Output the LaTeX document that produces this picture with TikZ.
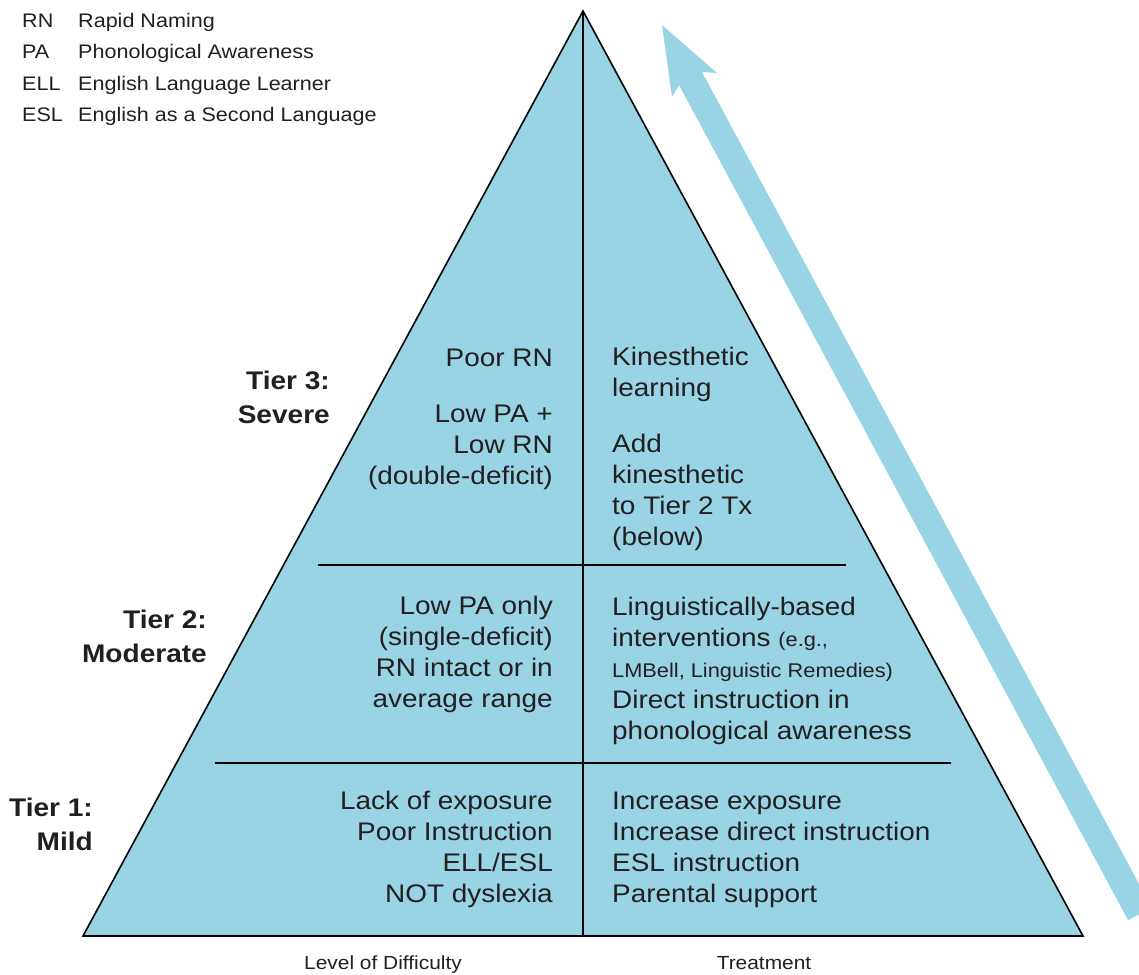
\documentclass[tikz,border=0pt]{standalone}
\usepackage{fontspec}
\setmainfont{Liberation Sans}[FakeStretch=1.1]
\definecolor{pyr}{RGB}{152,212,228}
\definecolor{txt}{RGB}{35,31,32}
\tikzset{
  body/.style={inner sep=0pt, text=txt, font=\fontsize{25.4}{31}\selectfont},
  lcol/.style={body, align=right, anchor=base east},
  rcol/.style={body, align=left, anchor=base west},
  tier/.style={inner sep=0pt, text=txt, align=right, anchor=base east, font=\fontsize{25.5}{33.5}\selectfont\bfseries},
  legend/.style={inner sep=0pt, text=txt, anchor=base west, font=\fontsize{19.6}{31}\selectfont},
  axis/.style={inner sep=0pt, text=txt, anchor=base, font=\fontsize{19}{24}\selectfont},
  edge/.style={line width=1.6pt, black, line join=miter},
  divider/.style={line width=1.3pt, black}
}
\newcommand{\smalltx}{\fontsize{19.8}{31}\selectfont}
\begin{document}
\begin{tikzpicture}[x=1pt,y=-1pt]
\useasboundingbox (0,0) rectangle (1139,974);
% arrow
\begin{scope}
\clip (0,0) rectangle (1139,974);
\fill[pyr] (662,25) -- (717,73) -- (702,72) -- (1152,908) -- (1128,920) -- (679,85) -- (672,97) -- cycle;
\end{scope}
% pyramid
\coordinate (apex) at (583,11);
\coordinate (bl) at (83,936);
\coordinate (br) at (1083,936);
\coordinate (bm) at (583,936);
\coordinate (d1l) at (318,565);
\coordinate (d1r) at (846,565);
\coordinate (d2l) at (215,763);
\coordinate (d2r) at (951,763);
\fill[pyr] (bl) -- (apex) -- (br) -- cycle;
\draw[divider] (apex) -- (bm);
\draw[divider] (d1l) -- (d1r);
\draw[divider] (d2l) -- (d2r);
\draw[edge] (bl) -- (apex) -- (br) -- cycle;
% legend
\node[legend] (lrn) at (22,28) {RN};
\node[legend] (lpa) at (22,59) {PA};
\node[legend] (lell) at (22,90) {ELL};
\node[legend] (lesl) at (22,121) {ESL};
\node[legend] (drn) at (78,28) {Rapid Naming};
\node[legend] (dpa) at (78,59) {Phonological Awareness};
\node[legend] (dell) at (78,90) {English Language Learner};
\node[legend] (desl) at (78,121) {English as a Second Language};
% tier labels (anchor = baseline of last line)
\node[tier] (t3) at (330,423) {Tier 3:\\Severe};
\node[tier] (t2) at (207,662) {Tier 2:\\Moderate};
\node[tier] (t1) at (93,850) {Tier 1:\\Mild};
% tier 3
\node[lcol] (t3a) at (553,366) {Poor RN};
\node[lcol] (t3b) at (553,484) {Low PA +\\Low RN\\(double-deficit)};
\node[rcol] (t3c) at (612,396) {Kinesthetic\\learning};
\node[rcol] (t3d) at (612,545) {Add\\kinesthetic\\to Tier 2 Tx\\(below)};
% tier 2
\node[lcol] (t2a) at (553,707) {Low PA only\\(single-deficit)\\RN intact or in\\average range};
\node[rcol] (t2b) at (612,739) {Linguistically-based\\interventions {\smalltx(e.g.,}\\{\smalltx LMBell, Linguistic Remedies)}\\Direct instruction in\\phonological awareness};
% tier 1
\node[lcol] (t1a) at (553,902) {Lack of exposure\\Poor Instruction\\ELL/ESL\\NOT dyslexia};
\node[rcol] (t1b) at (612,902) {Increase exposure\\Increase direct instruction\\ESL instruction\\Parental support};
% axis labels
\node[axis] (lod) at (383,969) {Level of Difficulty};
\node[axis] (trt) at (764,969) {Treatment};
\end{tikzpicture}
\end{document}
